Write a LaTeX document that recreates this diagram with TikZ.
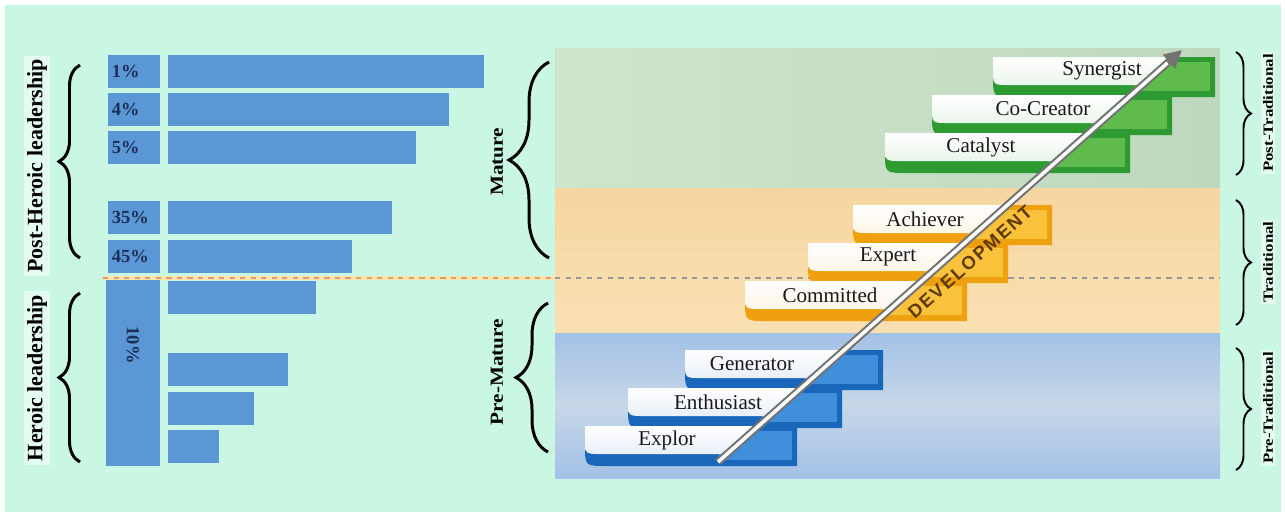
\documentclass[tikz,border=0pt]{standalone}
\usepackage{fontspec}
\setmainfont{Liberation Serif}
\newfontfamily\devfont{Liberation Sans}[LetterSpace=10]
\usetikzlibrary{arrows.meta,decorations.pathreplacing,calc}
\definecolor{mint}{HTML}{C9F7E4}
\definecolor{mintlight}{HTML}{E4FBF1}
\definecolor{barblue}{HTML}{5B96D5}
\definecolor{navy}{HTML}{1B2F57}
\definecolor{greenband}{HTML}{D0E5CD}
\definecolor{greenband2}{HTML}{BDD8BE}
\definecolor{orangeband}{HTML}{F6D6A0}
\definecolor{orangeband2}{HTML}{F9E0B2}
\definecolor{blueband}{HTML}{A3C1E6}
\definecolor{blueband2}{HTML}{C6D7E8}
\definecolor{bluedark}{HTML}{1A66BA}
\definecolor{bluelight}{HTML}{3F8FDB}
\definecolor{orangedark}{HTML}{EFA00F}
\definecolor{orangelight}{HTML}{F9C23A}
\definecolor{greendark}{HTML}{2E9A32}
\definecolor{greenlight}{HTML}{5EBB4C}
\definecolor{devtext}{HTML}{5E3A0C}
\definecolor{dashorange}{HTML}{E49A6A}
\tikzset{
  every node/.style={text=black},
  pctbox/.style={fill=barblue, minimum height=0.66cm, text width=0.9cm, inner xsep=0.07cm, inner ysep=0pt,
    align=left, anchor=north west, font=\fontsize{10.5}{12}\selectfont\bfseries, text=navy},
  barbox/.style={fill=barblue, minimum height=0.66cm, inner sep=0pt, anchor=north west},
  sidelabel/.style={rotate=90, font=\fontsize{12.5}{14}\selectfont\bfseries, fill=mintlight, inner sep=2pt},
  phaselabel/.style={rotate=90, font=\fontsize{10.5}{12}\selectfont\bfseries, inner sep=1pt},
  smalllabel/.style={rotate=90, font=\fontsize{8}{9}\selectfont\bfseries, fill=mintlight, inner sep=1pt},
  bigbrace/.style={decorate, decoration={brace, amplitude=#1}, line width=1.7pt},
  thinbrace/.style={decorate, decoration={brace, amplitude=#1}, line width=1.1pt},
  steplabel/.style={font=\fontsize{12}{14}\selectfont, text=black!90, inner sep=0pt},
  devarrow/.style={draw=black!55, line width=4.4pt, -{Triangle[length=10pt, width=10pt]}},
  devshine/.style={draw=white, line width=2pt, shorten >=11pt},
}
\newcommand{\stairstep}[7]{% #1 name, #2 colour, #3 left, #4 top, #5 right, #6 text x, #7 text
  \fill[#2dark] (#3,#4) -- (#3,#4+20) .. controls (#3,#4+40) .. (#3+22,#4+40) -- (#5,#4+40) -- (#5,#4) -- cycle;
  \fill[#2light] ({718+(427-#4)*1.1268},#4+5) rectangle (#5-5,#4+34);
  \begin{scope}
    \clip (556,48) -- (1184.5,48) -- (700,478) -- (556,478) -- cycle;
    \shade[top color=white, bottom color=white!90!#2dark] (#3,#4) -- (#3,#4+13) .. controls (#3,#4+28) .. (#3+16,#4+28) -- (#5,#4+28) -- (#5,#4) -- cycle;
  \end{scope}
  \node[steplabel] (#1) at (#6,#4+14) {#7};
}

\begin{document}
\begin{tikzpicture}[x=0.02cm, y=-0.02cm]
  \useasboundingbox (0,0) rectangle (1285,515);
  \fill[white] (0,0) rectangle (1285,515);
  \fill[mint] (5,5) rectangle (1281,512);

  % left: share of leaders per stage
  \foreach \n/\y/\w in {1/55/6.32, 2/93/5.62, 3/131/4.96, 4/201/4.48, 5/240/3.68, 6/281/2.96, 7/353/2.40, 8/392/1.72, 9/430/1.02}
    \node[barbox, minimum width=\w cm] (bar\n) at (168,\y) {};
  \foreach \n/\y/\p in {1/55/1, 2/93/4, 3/131/5, 4/201/35, 5/240/45}
    \node[pctbox] (pct\n) at (108,\y) {\p\%};
  \node[barbox, minimum width=1.08cm, minimum height=3.74cm] (pct10) at (106,279) {};
  \node[rotate=-90, font=\fontsize{10.5}{12}\selectfont\bfseries, text=navy] (pct10txt) at (133,345) {10\%};

  \node[sidelabel] (postheroic) at (37,166) {Post-Heroic leadership};
  \node[sidelabel] (heroic) at (37,378) {Heroic leadership};
  \draw[bigbrace=0.42cm] (80,258) -- (80,65);
  \draw[bigbrace=0.42cm] (80,462) -- (80,293);

  % right: bands of the staircase
  \shade[left color=greenband, right color=greenband2] (555,48) rectangle (1220,188);
  \shade[top color=orangeband, bottom color=orangeband2] (555,188) rectangle (1220,333);
  \shade[top color=blueband, bottom color=blueband, middle color=blueband2] (555,333) rectangle (1220,478);

  \draw[yellow!40!orange!30, line width=2.2pt] (103,278) -- (555,278);
  \draw[dashorange, dashed, line width=1pt] (103,278) -- (555,278);
  \draw[black!40, dashed, line width=0.7pt] (555,278) -- (1220,278);

  \stairstep{synergist}{green}{993}{57}{1215}{1102}{Synergist}
  \stairstep{cocreator}{green}{932}{95}{1172}{1043}{Co-Creator}
  \stairstep{catalyst}{green}{885}{133}{1130}{981}{Catalyst}
  \stairstep{achiever}{orange}{853}{205}{1052}{925}{Achiever}
  \stairstep{expert}{orange}{808}{243}{1008}{888}{Expert}
  \stairstep{committed}{orange}{745}{281}{967}{830}{Committed}
  \stairstep{generator}{blue}{685}{350}{883}{752}{Generator}
  \stairstep{enthusiast}{blue}{628}{388}{842}{718}{Enthusiast}
  \stairstep{explor}{blue}{585}{426}{797}{667}{Explor}

  \coordinate (devstart) at (718,462);
  \coordinate (devend) at (1182,50);
  \draw[devarrow] (devstart) -- (devend);
  \draw[devshine, shift={(-1.3,-1.5)}] (devstart) -- (devend);
  \node[rotate=41.6, font=\devfont\bfseries\fontsize{10.5}{12}\selectfont, text=devtext, inner sep=0pt] (devlabel) at (970,262) {DEVELOPMENT};

  \node[phaselabel] (mature) at (497,162) {\scalebox{1.15}[1]{Mature}};
  \node[phaselabel] (premature) at (497,372) {\scalebox{1.15}[1]{Pre-Mature}};
  \draw[bigbrace=0.8cm] (549,258) -- (549,62);
  \draw[bigbrace=0.64cm] (548,452) -- (548,303);

  \draw[thinbrace=0.3cm] (1236,52) -- (1236,175);
  \draw[thinbrace=0.3cm] (1236,200) -- (1236,325);
  \draw[thinbrace=0.3cm] (1236,348) -- (1236,470);
  \node[smalllabel] (posttrad) at (1268,113) {\scalebox{1.2}[1]{Post-Traditional}};
  \node[smalllabel] (trad) at (1268,262) {\scalebox{1.2}[1]{Traditional}};
  \node[smalllabel] (pretrad) at (1268,408) {\scalebox{1.2}[1]{Pre-Traditional}};
\end{tikzpicture}
\end{document}
